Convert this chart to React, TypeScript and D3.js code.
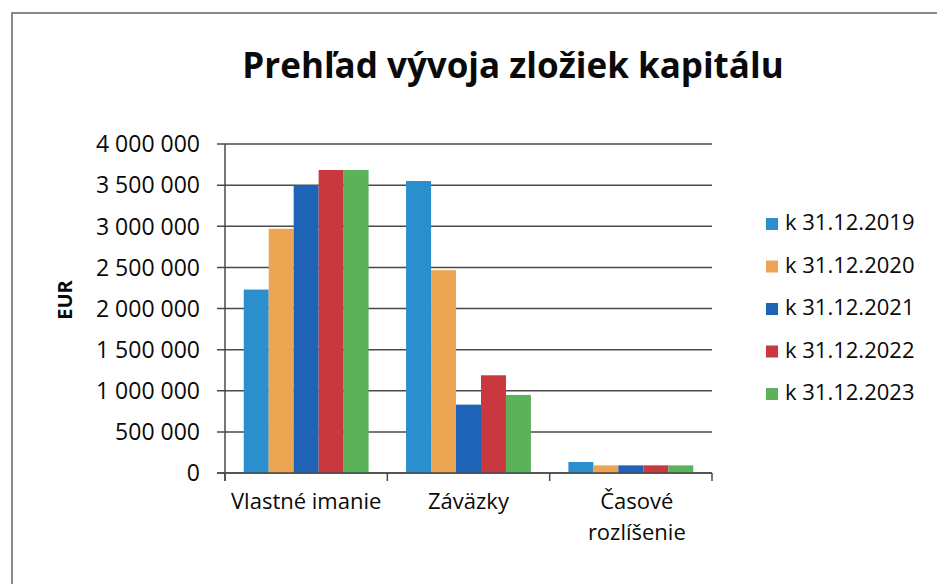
import React, { useEffect, useRef } from 'react';
import * as d3 from 'd3';

const categories = ['Vlastné imanie', 'Záväzky', 'Časové rozlíšenie'];
const categoryLines = [['Vlastné imanie'], ['Záväzky'], ['Časové', 'rozlíšenie']];
const seriesNames = ['k 31.12.2019', 'k 31.12.2020', 'k 31.12.2021', 'k 31.12.2022', 'k 31.12.2023'];
const seriesColors = ['#2a8fcc', '#eca552', '#1e63b5', '#c9373f', '#5cb25b'];
// one array per series, values per category
const v2019 = [2230000, 3550000, 134000];
const v2020 = [2970000, 2466000, 93000];
const v2021 = [3500000, 831000, 93000];
const v2022 = [3684000, 1188000, 93000];
const v2023 = [3684000, 949000, 93000];
const yTicks = [0, 500000, 1000000, 1500000, 2000000, 2500000, 3000000, 3500000, 4000000];

const seriesValues = [v2019, v2020, v2021, v2022, v2023];
const FONT = '"Open Sans", sans-serif';

const fmt = (n: number) => d3.format(',')(n).replace(/,/g, ' ');

export default function App() {
  const ref = useRef<SVGSVGElement>(null);

  useEffect(() => {
    const svg = d3.select(ref.current);
    svg.selectAll('*').remove();

    const left = 225, right = 712, top = 144, bottom = 473;

    const x = d3.scaleBand().domain(categories).range([left, right]).padding(0);
    const xs = d3.scaleBand<number>()
      .domain(d3.range(seriesNames.length))
      .range([0, x.bandwidth()])
      .paddingInner(0)
      .paddingOuter(0.75);
    const y = d3.scaleLinear().domain([0, 4000000]).range([bottom, top]);

    // frame
    svg.append('path')
      .attr('d', 'M12,584 L12,13 L937,13')
      .attr('fill', 'none')
      .attr('stroke', '#8a8a8a')
      .attr('stroke-width', 2);

    svg.append('text')
      .attr('x', 513)
      .attr('y', 78)
      .attr('text-anchor', 'middle')
      .attr('font-family', FONT)
      .attr('font-weight', 700)
      .attr('font-size', 35)
      .attr('fill', '#0a0a0a')
      .text('Prehľad vývoja zložiek kapitálu');

    // grid + y ticks
    const grid = svg.append('g');
    grid.selectAll('line')
      .data(yTicks)
      .enter().append('line')
      .attr('x1', left - 8)
      .attr('x2', right)
      .attr('y1', d => y(d))
      .attr('y2', d => y(d))
      .attr('stroke', '#4a4a4a')
      .attr('stroke-width', 1.5);

    grid.selectAll('text')
      .data(yTicks)
      .enter().append('text')
      .attr('x', 200)
      .attr('y', d => y(d))
      .attr('dy', '0.36em')
      .attr('text-anchor', 'end')
      .attr('font-family', FONT)
      .attr('font-size', 23)
      .attr('fill', '#0a0a0a')
      .text(d => fmt(d));

    // bars
    seriesValues.forEach((vals, si) => {
      svg.append('g')
        .selectAll('rect')
        .data(vals)
        .enter().append('rect')
        .attr('x', (d, i) => (x(categories[i]) as number) + (xs(si) as number))
        .attr('width', xs.bandwidth())
        .attr('y', d => y(d))
        .attr('height', d => bottom - y(d))
        .attr('fill', seriesColors[si]);
    });

    // axes
    svg.append('line')
      .attr('x1', left).attr('x2', left)
      .attr('y1', top).attr('y2', bottom + 8)
      .attr('stroke', '#4a4a4a').attr('stroke-width', 1.5);
    svg.append('line')
      .attr('x1', left - 8).attr('x2', right)
      .attr('y1', bottom).attr('y2', bottom)
      .attr('stroke', '#4a4a4a').attr('stroke-width', 1.5);
    const edges = categories.map(c => x(c) as number).concat([right]);
    svg.append('g').selectAll('line')
      .data(edges)
      .enter().append('line')
      .attr('x1', d => d).attr('x2', d => d)
      .attr('y1', bottom).attr('y2', bottom + 8)
      .attr('stroke', '#4a4a4a').attr('stroke-width', 1.5);

    // category labels
    categories.forEach((c, i) => {
      const t = svg.append('text')
        .attr('text-anchor', 'middle')
        .attr('font-family', FONT)
        .attr('font-size', 22)
        .attr('fill', '#0a0a0a');
      categoryLines[i].forEach((line, li) => {
        t.append('tspan')
          .attr('x', (x(c) as number) + x.bandwidth() / 2 + (i === 2 ? 6 : 0))
          .attr('y', 509 + li * 31)
          .text(line);
      });
    });

    // y title
    svg.append('text')
      .attr('transform', 'translate(72,300) rotate(-90)')
      .attr('text-anchor', 'middle')
      .attr('font-family', FONT)
      .attr('font-weight', 700)
      .attr('font-size', 20)
      .attr('fill', '#0a0a0a')
      .text('EUR');

    // legend
    const legend = svg.append('g');
    const item = legend.selectAll('g')
      .data(seriesNames)
      .enter().append('g')
      .attr('transform', (d, i) => 'translate(766,' + (230 + i * 42.5) + ')');
    item.append('rect')
      .attr('x', 0).attr('y', -12)
      .attr('width', 12).attr('height', 12)
      .attr('fill', (d, i) => seriesColors[i]);
    item.append('text')
      .attr('x', 19)
      .attr('y', 0)
      .attr('font-family', FONT)
      .attr('font-size', 22)
      .attr('fill', '#0a0a0a')
      .text(d => d);
  }, []);

  return (
    <div style={{ position: 'absolute', left: 0, top: 0 }}>
      <svg ref={ref} width={937} height={584} style={{ display: 'block', background: '#fff' }} />
    </div>
  );
}
